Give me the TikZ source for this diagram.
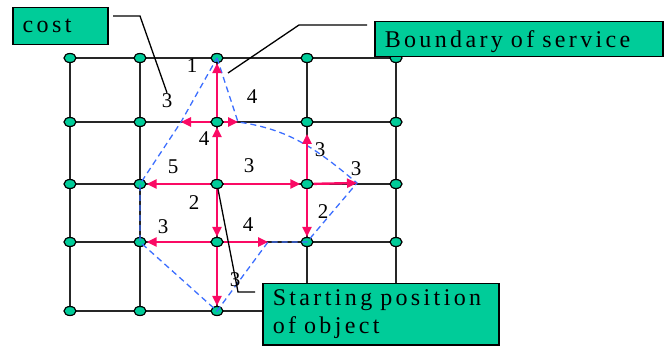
\documentclass[tikz,border=0pt]{standalone}
\usepackage{fontspec}
\setmainfont{Liberation Serif}
\newfontfamily\boxfont[LetterSpace=14]{Liberation Serif}
\usetikzlibrary{arrows.meta,positioning,shapes.geometric}
\definecolor{nodegreen}{RGB}{0,204,153}
\definecolor{pathred}{RGB}{250,10,100}
\definecolor{edgeblue}{RGB}{60,110,255}

\begin{document}
\begin{tikzpicture}[
    x=1pt, y=-1pt,
    gridline/.style={line width=2pt, draw=black!85},
    gridpt/.style={ellipse, draw=black, line width=1.2pt, fill=nodegreen, minimum width=12pt, minimum height=9pt, inner sep=0pt},
    route/.style={-{Triangle[length=10pt, width=9pt]}, line width=2.4pt, draw=pathred},
    rim/.style={line width=1.3pt, draw=edgeblue, dash pattern=on 6pt off 4pt},
    costlbl/.style={font=\fontsize{21}{21}\selectfont, inner sep=1pt},
    callout/.style={draw=black, line width=1.5pt, fill=nodegreen, font=\boxfont\fontsize{24}{28}\selectfont, align=left, inner xsep=10pt, anchor=north west},
    leader/.style={line width=1.3pt, draw=black}
]
    \useasboundingbox (0,0) rectangle (664,347);

    % street grid
    \foreach \y [count=\r] in {58,122,184,242,311}
        \foreach \x [count=\c] in {70,140,217,307,396}
            \coordinate (p-\r-\c) at (\x,\y);
    \foreach \r in {1,...,5} \draw [gridline] (p-\r-1) -- (p-\r-5);
    \foreach \c in {1,...,5} \draw [gridline] (p-1-\c) -- (p-5-\c);
    \foreach \r in {1,...,5}
        \foreach \c in {1,...,5}
            \node (g-\r-\c) [gridpt] at (p-\r-\c) {};

    % points where the service area ends
    \coordinate (bL2) at (181,122);
    \coordinate (bR2) at (238,122);
    \coordinate (bR3) at (357,183);
    \coordinate (bR4) at (268,242);
    \coordinate (bT4) at (307,134);

    \draw [rim] (g-1-3.center) -- (bR2) to[out=-8, in=140] (bR3) -- (g-4-4.center) -- (bR4)
        -- (g-5-3.center) -- (g-4-2.center) -- (g-3-2.center) -- (bL2) -- cycle;

    % shortest routes
    \draw [route] (g-3-3) -- (g-2-3);
    \draw [route] (g-2-3) -- (g-1-3);
    \draw [route] (g-2-3) -- (bL2);
    \draw [route] (g-2-3) -- (bR2);
    \draw [route] (g-3-3) -- (g-3-2);
    \draw [route] (g-3-3) -- (g-3-4);
    \draw [route] (g-3-4) -- (bR3);
    \draw [route] (g-3-4) -- (bT4);
    \draw [route] (g-3-4) -- (g-4-4);
    \draw [route] (g-3-3) -- (g-4-3);
    \draw [route] (g-4-3) -- (g-5-3);
    \draw [route] (g-4-3) -- (g-4-2);
    \draw [route] (g-4-3) -- (bR4);

    % edge costs
    \foreach \x/\y/\t [count=\i] in {192/66/1, 167/101/3, 252/97/4, 204/139/4, 320/150/3,
        173/167/5, 249/166/3, 356/169/3, 194/203/2, 323/212/2, 163/227/3, 248/225/4, 235/280/3}
        \node (w-\i) [costlbl] at (\x,\y) {\t};

    % call-outs
    \node (costbox) [callout, minimum width=95pt, minimum height=37pt, text width=75pt] at (12,7) {cost};
    \node (bndbox) [callout, minimum width=288pt, minimum height=35pt, text width=268pt, text depth=0pt] at (374,21) {Boundary of service};
    \node (startbox) [callout, minimum width=236pt, minimum height=61pt, text width=216pt] at (262,283) {Starting position\\of object};

    \coordinate (costA) at (113,16);
    \coordinate (costB) at (140,16);
    \coordinate (bndA) at (367,25);
    \coordinate (bndB) at (299,25);
    \coordinate (bndC) at (228,73);
    \coordinate (stA) at (255,292);
    \coordinate (stB) at (238,292);

    \draw [leader] (costA) -- (costB) -- (w-2.north);
    \draw [leader] (bndA) -- (bndB) -- (bndC);
    \draw [leader] (stA) -- (stB) -- (g-3-3);
\end{tikzpicture}
\end{document}
